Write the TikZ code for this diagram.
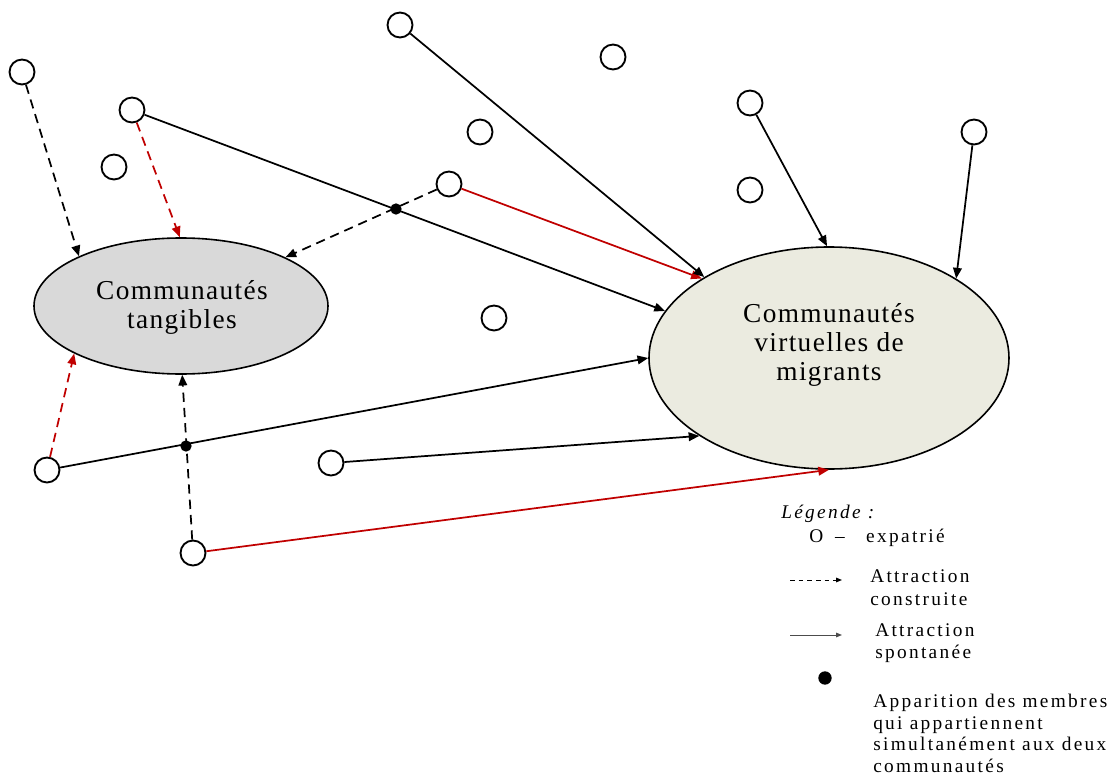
\documentclass[tikz,border=0pt]{standalone}
\usepackage{fontspec}
\setmainfont{Liberation Serif}
\newfontfamily\mfont[LetterSpace=5]{Liberation Serif}
\newfontfamily\lgfont[LetterSpace=12]{Liberation Serif}
\usetikzlibrary{arrows.meta,shapes.geometric}
\definecolor{redA}{RGB}{192,0,0}
\definecolor{tangfill}{RGB}{217,217,217}
\definecolor{virtfill}{RGB}{235,235,224}
\begin{document}
\begin{tikzpicture}[x=0.75pt,y=-0.75pt,
  person/.style={circle,draw,line width=1.4pt,minimum size=18.75pt,inner sep=0pt,fill=white},
  comm/.style={ellipse,draw,line width=1.2pt,inner sep=0pt},
  link/.style={line width=1.3pt,-{Triangle[length=8pt,width=6.5pt]}},
  dashlink/.style={link,dash pattern=on 7pt off 4.5pt},
  redlink/.style={color=redA},
  member/.style={circle,fill=black,inner sep=0pt,minimum size=8.5pt},
  lbl/.style={font=\mfont\fontsize{20.5}{21.75}\selectfont,align=center,inner sep=0pt},
  lg/.style={font=\lgfont\fontsize{14.5}{17}\selectfont,anchor=base west,align=left,inner sep=0pt},
  lgarrow/.style={line width=0.7pt,-{Triangle[length=4.5pt,width=3.5pt]}}
]
\useasboundingbox (0,0) rectangle (1115,778);

% communities
\node[comm,fill=tangfill,minimum width=220.5pt,minimum height=102pt] (tang) at (181,306) {};
\node[comm,fill=virtfill,minimum width=270pt,minimum height=166.5pt] (virt) at (829,358) {};
\node[lbl,anchor=base] (tangtxt) at (182,328) {Communautés\\tangibles};
\node[lbl,anchor=base] (virttxt) at (829,380) {Communautés\\virtuelles de\\migrants};

% expatriates
\node[person] (A) at (22,72) {};
\node[person] (B) at (132,110) {};
\node[person] (C) at (114,167) {};
\node[person] (D) at (400,25) {};
\node[person] (E) at (613,57) {};
\node[person] (F) at (480,132) {};
\node[person] (G) at (750,103) {};
\node[person] (H) at (750,190) {};
\node[person] (I) at (974,132) {};
\node[person] (J) at (449,184) {};
\node[person] (K) at (494,318) {};
\node[person] (L) at (47,470) {};
\node[person] (M) at (331,463) {};
\node[person] (N) at (193,553) {};

% attractions
\draw[dashlink] (A) -- (tang.154.5);
\draw[dashlink,redlink] (B) -- (tang.91);
\draw[link] (B) -- (virt.164.5);
\draw[dashlink] (J) -- (tang.25.3);
\draw[link,redlink] (J) -- (virt.148.5);
\draw[link] (D) -- (virt.147.5);
\draw[link] (G) -- (virt.91);
\draw[link] (I) -- (virt.32.4);
\draw[dashlink,redlink] (L) -- (tang.204.8);
\draw[link] (L) -- (virt.180.6);
\draw[dashlink] (N) -- (tang.-89);
\draw[link,redlink] (N) -- (virt.-90.5);
\draw[link] (M) -- (virt.211.9);

% double members
\node[member] (m1) at (396,209) {};
\node[member] (m2) at (186,446) {};

% legend
\node[lg,font=\lgfont\itshape\fontsize{14.5}{17}\selectfont] (lgtitle) at (781,518) {Légende :};
\node[lg] (lgexp) at (809,542) {O\hspace{9pt}–\hspace{16pt}expatrié};
\coordinate (la1) at (790,580);
\coordinate (la2) at (842,580);
\draw[lgarrow,dash pattern=on 3.5pt off 3pt] (la1) -- (la2);
\node[lg] (lgcon) at (870,605) {Attraction\\construite};
\coordinate (lb1) at (790,635);
\coordinate (lb2) at (842,635);
\draw[lgarrow,draw=black!70,fill=black] (lb1) -- (lb2);
\node[lg,font=\lgfont\fontsize{14.5}{16}\selectfont] (lgspo) at (875,658) {Attraction\\spontanée};
\node[member,minimum size=10pt] (lgdot) at (825,678) {};
\node[lg,font=\lgfont\fontsize{14.5}{16.1}\selectfont] (lgapp) at (873,772) {Apparition des membres\\qui appartiennent\\simultanément aux deux\\communautés};
\end{tikzpicture}
\end{document}
